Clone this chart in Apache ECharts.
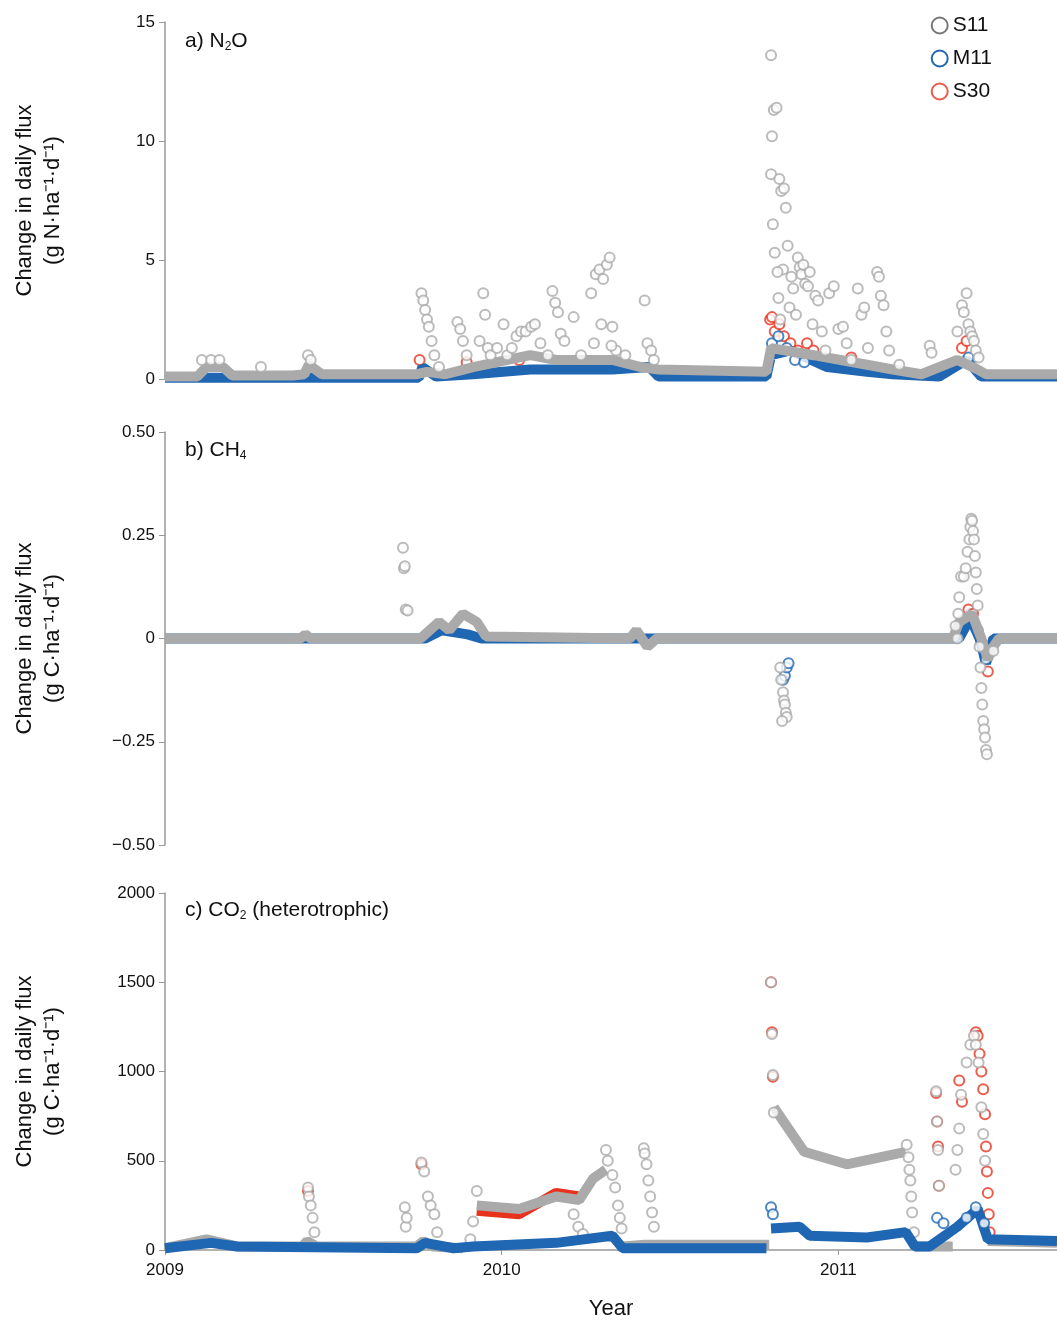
<!DOCTYPE html>
<html>
<head>
<meta charset="utf-8">
<script src="https://cdn.jsdelivr.net/npm/echarts@6/dist/echarts.min.js"></script>
<style>html,body{margin:0;padding:0;background:#fff}#main{width:1057px;height:1322px}</style>
</head>
<body>
<div id="main"></div>
<script>
// ---------- data ----------
var xTicks = ['2009', '2010', '2011'];

// a) N2O, g N/ha/d
var n2oS11Pts = [['2009-02-10',0.8],['2009-02-20',0.8],['2009-03-01',0.8],['2009-04-15',0.5],['2009-06-05',1.0],['2009-06-08',0.8],
  ['2009-10-06',3.6],['2009-10-08',3.3],['2009-10-10',2.9],['2009-10-12',2.5],['2009-10-14',2.2],['2009-10-17',1.6],['2009-10-20',1.0],['2009-10-25',0.5],
  ['2009-11-14',2.4],['2009-11-17',2.1],['2009-11-20',1.6],['2009-11-24',1.0],['2009-12-08',1.6],['2009-12-12',3.6],['2009-12-14',2.7],['2009-12-17',1.3],
  ['2009-12-20',1.0],['2009-12-27',1.3],['2010-01-03',2.3],['2010-01-07',1.0],['2010-01-12',1.3],['2010-01-17',1.8],['2010-01-22',2.0],['2010-01-27',2.0],
  ['2010-02-02',2.2],['2010-02-06',2.3],['2010-02-12',1.5],['2010-02-20',1.0],['2010-02-25',3.7],['2010-02-28',3.2],['2010-03-03',2.8],['2010-03-06',1.9],
  ['2010-03-10',1.6],['2010-03-20',2.6],['2010-03-28',1.0],['2010-04-08',3.6],['2010-04-13',4.4],['2010-04-17',4.6],['2010-04-21',4.2],['2010-04-25',4.8],
  ['2010-04-28',5.1],['2010-04-19',2.3],['2010-05-01',2.2],['2010-05-05',1.2],['2010-04-11',1.5],['2010-04-30',1.4],['2010-05-15',1.0],
  ['2010-06-05',3.3],['2010-06-08',1.5],['2010-06-12',1.2],['2010-06-15',0.8],
  ['2010-10-20',13.6],['2010-10-21',10.2],['2010-10-20',8.6],['2010-10-23',11.3],['2010-10-26',11.4],['2010-10-22',6.5],['2010-10-24',5.3],
  ['2010-10-29',8.4],['2010-10-31',7.9],['2010-11-03',8.0],['2010-11-05',7.2],['2010-11-07',5.6],['2010-11-02',4.6],['2010-10-27',4.5],['2010-10-28',3.4],
  ['2010-10-30',2.5],['2010-11-09',3.0],['2010-11-11',4.3],['2010-11-13',3.8],['2010-11-16',2.7],['2010-11-18',5.1],['2010-11-20',4.7],['2010-11-22',4.4],
  ['2010-11-24',4.8],['2010-11-26',4.0],['2010-11-29',3.9],['2010-12-01',4.5],['2010-12-04',2.3],['2010-12-07',3.5],['2010-12-10',3.3],['2010-12-14',2.0],
  ['2010-12-18',1.2],['2010-12-22',3.6],['2010-12-27',3.9],['2011-01-01',2.1],['2011-01-06',2.2],['2011-01-10',1.5],['2011-01-15',0.8],['2011-01-22',3.8],
  ['2011-01-26',2.7],['2011-01-29',3.0],['2011-02-02',1.3],['2011-02-12',4.5],['2011-02-14',4.3],['2011-02-16',3.5],['2011-02-19',3.1],['2011-02-22',2.0],
  ['2011-02-25',1.2],['2011-03-08',0.6],['2011-04-10',1.4],['2011-04-12',1.1],['2011-05-10',2.0],['2011-05-15',3.1],['2011-05-17',2.8],['2011-05-20',3.6],
  ['2011-05-22',2.3],['2011-05-24',2.0],['2011-05-26',1.8],['2011-05-28',1.6],['2011-05-30',1.2],['2011-06-02',0.9]];
var n2oS11Base = [['2009-01-01',0.1],['2009-02-05',0.1],['2009-02-15',0.5],['2009-03-05',0.5],['2009-03-15',0.15],['2009-05-20',0.15],['2009-06-01',0.2],
  ['2009-06-06',0.6],['2009-06-20',0.2],['2009-10-01',0.2],['2009-10-12',0.3],['2009-11-01',0.2],['2009-12-01',0.5],['2010-02-01',1.0],['2010-03-01',0.8],
  ['2010-05-01',0.8],['2010-06-01',0.5],['2010-06-20',0.4],['2010-10-15',0.3],['2010-10-20',1.3],['2010-12-05',1.0],['2011-02-01',0.6],['2011-03-01',0.4],
  ['2011-04-01',0.2],['2011-05-10',0.8],['2011-06-01',0.4],['2011-06-10',0.2],['2011-08-26',0.2]];
var n2oM11Pts = [['2010-10-21',1.5],['2010-10-28',1.8],['2010-11-06',1.3],['2010-11-15',0.8],['2010-11-25',0.7],['2011-05-22',0.9]];
var n2oM11Base = [['2009-01-01',0.05],['2009-10-03',0.05],['2009-10-07',0.5],['2009-10-22',0.1],['2009-12-01',0.2],['2010-02-01',0.4],['2010-05-01',0.4],
  ['2010-06-10',0.5],['2010-06-20',0.1],['2010-10-15',0.1],['2010-10-20',1.0],['2010-11-10',1.2],['2010-12-20',0.5],['2011-02-01',0.3],['2011-03-01',0.2],
  ['2011-04-20',0.1],['2011-05-20',0.8],['2011-06-05',0.1],['2011-08-26',0.1]];
var n2oS30Pts = [['2009-10-04',0.8],['2009-11-24',0.7],['2010-01-20',0.8],['2010-10-19',2.5],['2010-10-21',2.6],['2010-10-24',2.0],['2010-10-29',2.3],
  ['2010-11-03',1.8],['2010-11-10',1.5],['2010-11-18',1.2],['2010-11-28',1.5],['2010-12-05',1.2],['2010-12-18',0.8],['2011-01-15',0.9],['2011-05-15',1.3],['2011-05-20',1.6]];

// b) CH4, g C/ha/d
var ch4S11Pts = [['2009-09-16',0.22],['2009-09-17',0.17],['2009-09-18',0.175],['2009-09-19',0.07],['2009-09-21',0.068],
  ['2010-10-30',-0.07],['2010-10-31',-0.1],['2010-11-02',-0.13],['2010-11-03',-0.15],['2010-11-04',-0.16],['2010-11-05',-0.18],['2010-11-06',-0.19],['2010-11-01',-0.2],
  ['2011-05-08',0.03],['2011-05-12',0.1],['2011-05-14',0.15],['2011-05-17',0.15],['2011-05-19',0.17],['2011-05-21',0.21],['2011-05-23',0.24],['2011-05-24',0.27],
  ['2011-05-25',0.29],['2011-05-26',0.285],['2011-05-27',0.26],['2011-05-28',0.24],['2011-05-29',0.2],['2011-05-30',0.16],['2011-05-31',0.12],['2011-06-01',0.08],
  ['2011-06-03',-0.02],['2011-06-04',-0.07],['2011-06-05',-0.12],['2011-06-06',-0.16],['2011-06-07',-0.2],['2011-06-08',-0.22],['2011-06-09',-0.24],
  ['2011-06-10',-0.27],['2011-06-11',-0.28],['2011-06-18',-0.03],['2011-05-10',0.0],['2011-05-11',0.06]];
var ch4S11Base = [['2009-01-01',0],['2009-05-28',0],['2009-06-02',0.01],['2009-06-08',0],['2009-10-05',0],['2009-10-25',0.04],['2009-11-05',0.02],
  ['2009-11-20',0.06],['2009-12-05',0.04],['2009-12-15',0.005],['2010-05-20',0],['2010-05-27',0.02],['2010-06-08',-0.02],['2010-06-18',0],['2011-05-05',0],
  ['2011-05-12',0.04],['2011-05-26',0.06],['2011-06-05',0],['2011-06-12',-0.05],['2011-06-18',-0.02],['2011-06-24',0],['2011-08-26',0]];
var ch4M11Pts = [['2010-11-02',-0.1],['2010-11-04',-0.09],['2010-11-06',-0.07],['2010-11-08',-0.06],['2011-05-24',0.06],['2011-06-01',0.02],['2011-06-10',-0.05]];
var ch4M11Base = [['2009-01-01',0],['2009-10-10',0],['2009-10-28',0.02],['2009-11-25',0.01],['2009-12-10',0],['2011-05-12',0],['2011-05-24',0.05],
  ['2011-06-03',0],['2011-06-10',-0.06],['2011-06-18',0],['2011-08-26',0]];
var ch4S30Pts = [['2011-05-22',0.07],['2011-05-27',0.06],['2011-06-12',-0.08]];

// c) CO2 (heterotrophic), g C/ha/d  ('-' = gap in the dense run)
var co2S11Pts = [['2009-06-05',350],['2009-06-06',300],['2009-06-08',250],['2009-06-10',180],['2009-06-12',100],
  ['2009-09-18',240],['2009-09-19',130],['2009-09-20',180],['2009-10-06',490],['2009-10-09',440],['2009-10-13',300],['2009-10-16',250],['2009-10-20',200],['2009-10-23',100],
  ['2009-11-28',60],['2009-12-01',160],['2009-12-05',330],['2010-03-20',200],['2010-03-25',130],['2010-03-30',90],['2010-04-24',560],['2010-04-26',500],['2010-05-01',420],['2010-05-04',350],
  ['2010-05-07',250],['2010-05-09',180],['2010-05-11',120],['2010-06-04',570],['2010-06-05',540],['2010-06-07',480],['2010-06-09',390],['2010-06-11',300],
  ['2010-06-13',210],['2010-06-15',130],['2010-10-20',1500],['2010-10-21',1210],['2010-10-22',980],['2010-10-23',770],
  ['2011-03-16',590],['2011-03-18',520],['2011-03-19',450],['2011-03-20',390],['2011-03-21',300],['2011-03-22',210],['2011-03-24',100],
  ['2011-04-17',890],['2011-04-18',720],['2011-04-19',560],['2011-04-20',360],['2011-05-08',450],['2011-05-10',560],['2011-05-12',680],['2011-05-14',870],
  ['2011-05-20',1050],['2011-05-24',1150],['2011-05-28',1200],['2011-05-30',1150],['2011-06-02',1050],['2011-06-05',800],['2011-06-07',650],['2011-06-09',500]];
var co2S11Base = [['2009-01-01',10],['2009-02-15',60],['2009-03-20',20],['2009-05-30',20],['2009-06-04',50],['2009-06-14',20],['2009-10-01',20],
  ['2009-10-08',50],['2009-10-18',20],['2009-11-20',10],['2009-12-03','-'],['2009-12-05',250],['2010-01-20',230],['2010-03-01',300],['2010-03-26',280],['2010-04-10',400],
  ['2010-04-24',450],['2010-04-28','-'],['2010-05-12',20],['2010-06-05',30],['2010-06-16',30],['2010-10-18',30],['2010-10-20','-'],['2010-10-23',800],['2010-11-25',550],['2011-01-10',480],
  ['2011-03-15',550],['2011-03-18','-'],['2011-03-25',20],['2011-05-05',20],['2011-05-10','-'],['2011-06-12',50],['2011-08-26',40]];
var co2M11Pts = [['2010-10-20',240],['2010-10-22',200],['2011-04-18',180],['2011-04-25',150],['2011-05-20',180],['2011-05-30',240],['2011-06-08',150]];
var co2M11Base = [['2009-01-01',10],['2009-02-20',40],['2009-03-20',20],['2009-10-01',10],['2009-10-10',40],['2009-11-10',10],['2009-12-01',20],
  ['2010-03-01',40],['2010-05-01',80],['2010-05-12',10],['2010-10-15',10],['2010-10-19','-'],['2010-10-20',120],['2010-11-20',130],['2010-12-01',80],['2011-02-01',70],
  ['2011-03-15',100],['2011-03-25',20],['2011-04-10',20],['2011-05-10',130],['2011-06-01',230],['2011-06-12',60],['2011-08-26',50]];
var co2S30Pts = [['2009-06-05',330],['2009-10-06',480],['2010-10-20',1500],['2010-10-21',1220],['2010-10-22',970],['2011-04-17',880],['2011-04-18',720],
  ['2011-04-19',580],['2011-04-20',360],['2011-05-12',950],['2011-05-15',830],['2011-05-30',1220],['2011-06-01',1200],['2011-06-03',1100],['2011-06-05',1000],
  ['2011-06-07',900],['2011-06-09',760],['2011-06-10',580],['2011-06-11',440],['2011-06-12',320],['2011-06-13',200],['2011-06-14',100]];
var co2S30Base = [['2009-12-05',220],['2010-01-20',200],['2010-03-01',320],['2010-03-26',300]];

// ---------- chart ----------
var gray = '#aaaaaa', blue = '#1f66b3', red = '#e8321e';
var fontFam = 'Helvetica, Arial, "Liberation Sans", sans-serif';

function pts(name, data, color, idx, z) {
  return { name: name, type: 'scatter', xAxisIndex: idx, yAxisIndex: idx, data: data, symbol: 'circle', symbolSize: 10, z: z,
    itemStyle: { color: '#fff', borderColor: color, borderWidth: 2 }, silent: true };
}
function base(name, data, color, idx, z) {
  return { name: name, type: 'line', xAxisIndex: idx, yAxisIndex: idx, data: data, showSymbol: false, z: z, connectNulls: false,
    lineStyle: { color: color, width: 10 }, silent: true };
}

var grids = [{ left: 165, right: 0, top: 22, height: 357 }, { left: 165, right: 0, top: 432, height: 413 }, { left: 165, right: 0, top: 893, height: 357 }];
var yNames = ['Change in daily flux\n(g N·ha\u207B\u00B9·d\u207B\u00B9)', 'Change in daily flux\n(g C·ha\u207B\u00B9·d\u207B\u00B9)', 'Change in daily flux\n(g C·ha\u207B\u00B9·d\u207B\u00B9)'];
var yRanges = [[0, 15, 5], [-0.5, 0.5, 0.25], [0, 2000, 500]];

var xAxes = [], yAxes = [];
for (var i = 0; i < 3; i++) {
  xAxes.push({ type: 'time', gridIndex: i, min: '2009-01-01', max: '2011-08-26', show: i == 2,
    minInterval: 365 * 86400000, maxInterval: 366 * 86400000,
    axisLine: { lineStyle: { color: '#999', width: 1.5 } },
    axisTick: { show: true, length: 5, lineStyle: { color: '#999' } },
    axisLabel: { formatter: '{yyyy}', color: '#111', fontSize: 17, fontFamily: fontFam, margin: 12 },
    splitLine: { show: false },
    name: i == 2 ? 'Year' : '', nameLocation: 'middle', nameGap: 48, nameTextStyle: { fontSize: 22, color: '#111', fontFamily: fontFam } });
  yAxes.push({ type: 'value', gridIndex: i, min: yRanges[i][0], max: yRanges[i][1], interval: yRanges[i][2],
    axisLine: { show: true, lineStyle: { color: '#999', width: 1.5 } },
    axisTick: { show: true, length: 6, lineStyle: { color: '#999' } },
    splitLine: { show: false },
    axisLabel: { color: '#111', fontSize: 17, fontFamily: fontFam, margin: 10,
      formatter: function (v) { if (v == 0) return '0'; var s = (Math.abs(v) < 1 && v != 0) ? v.toFixed(2) : String(v); return s.replace('-', '\u2212'); } },
    name: yNames[i], nameLocation: 'middle', nameGap: 98, nameRotate: 90,
    nameTextStyle: { fontSize: 22, color: '#111', fontFamily: fontFam, lineHeight: 28 } });
}

var myChart = echarts.init(document.getElementById('main'));
var rich = { s: { fontSize: 12, verticalAlign: 'bottom', padding: [12, 0, 0, 0], color: '#111' } };
var option = {
  backgroundColor: '#fff',
  animation: false,
  title: [
    { text: 'a) N{s|2}O', left: 180, top: 24 },
    { text: 'b) CH{s|4}', left: 180, top: 433 },
    { text: 'c) CO{s|2} (heterotrophic)', left: 180, top: 893 }
  ].map(function (t) { t.textStyle = { fontSize: 21, fontWeight: 'normal', color: '#111', fontFamily: fontFam, rich: rich }; return t; }),
  legend: { orient: 'vertical', right: 60, top: 10, itemGap: 12, itemWidth: 16, itemHeight: 16, icon: 'circle',
    textStyle: { fontSize: 21, color: '#111', fontFamily: fontFam },
    data: [
      { name: 'S11', itemStyle: { color: '#fff', borderColor: '#777', borderWidth: 2 } },
      { name: 'M11', itemStyle: { color: '#fff', borderColor: blue, borderWidth: 2 } },
      { name: 'S30', itemStyle: { color: '#fff', borderColor: red, borderWidth: 2 } }
    ] },
  grid: grids,
  xAxis: xAxes,
  yAxis: yAxes,
  series: [
    pts('S30', n2oS30Pts, red, 0, 2), base('M11', n2oM11Base, blue, 0, 3), pts('M11', n2oM11Pts, blue, 0, 3),
    base('S11', n2oS11Base, gray, 0, 4), pts('S11', n2oS11Pts, gray, 0, 5),
    base('M11', ch4M11Base, blue, 1, 3), pts('M11', ch4M11Pts, blue, 1, 4), pts('S30', ch4S30Pts, red, 1, 4),
    base('S11', ch4S11Base, gray, 1, 5), pts('S11', ch4S11Pts, gray, 1, 5),
    base('S30', co2S30Base, red, 2, 2), pts('S30', co2S30Pts, red, 2, 2), base('S11', co2S11Base, gray, 2, 3),
    pts('S11', co2S11Pts, gray, 2, 3), base('M11', co2M11Base, blue, 2, 4), pts('M11', co2M11Pts, blue, 2, 4)
  ]
};
myChart.setOption(option);
</script>
</body>
</html>
